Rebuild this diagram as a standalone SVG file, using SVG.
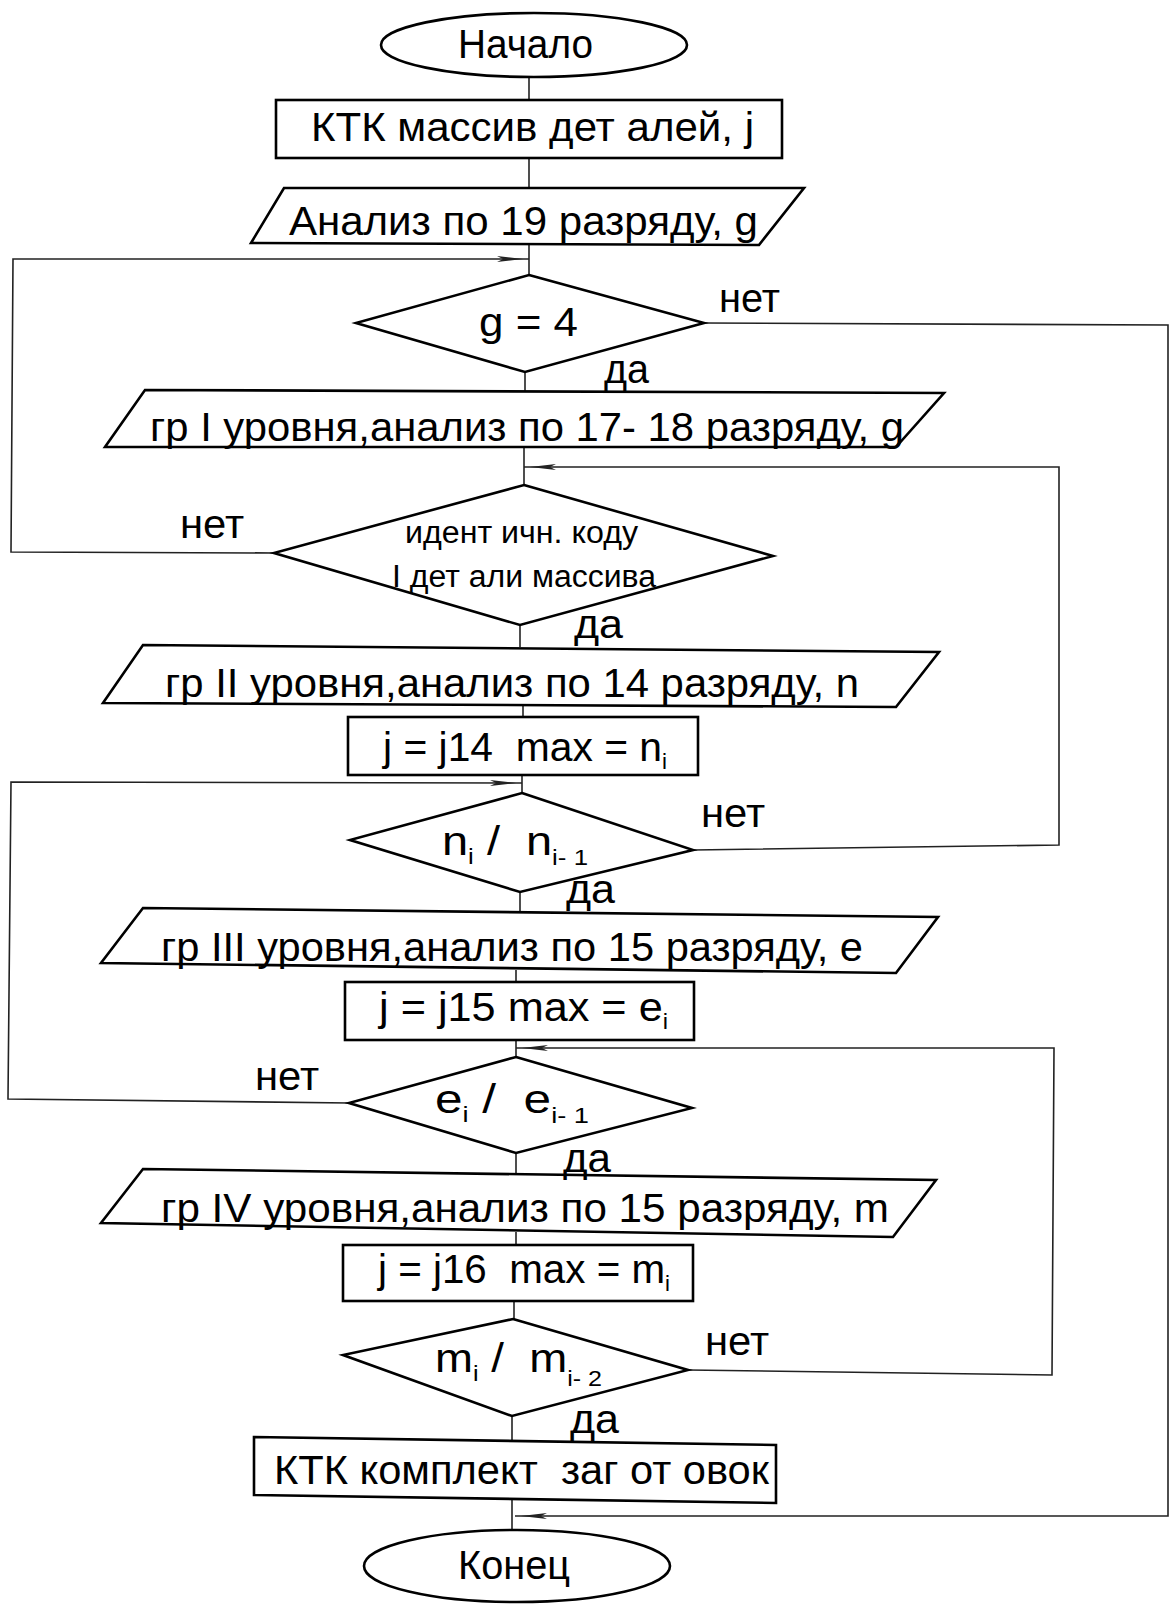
<svg xmlns="http://www.w3.org/2000/svg" width="1176" height="1604" viewBox="0 0 1176 1604">
<defs>
<style>
.shape{fill:none;stroke:#000;stroke-width:2.6;stroke-linejoin:miter}
.conn{fill:none;stroke:#222;stroke-width:1.6}
text{font-family:"Liberation Sans",Arial,sans-serif;fill:#000;white-space:pre}
.t{font-size:40px}
.lbl{font-size:40px}
.sm{font-size:31px}
</style>
<marker id="arr" markerUnits="userSpaceOnUse" markerWidth="40" markerHeight="12" viewBox="0 0 40 12" refX="36" refY="6" orient="auto">
<path d="M4,3 L30,6 L4,9 L10,6 Z" fill="#222"/>
</marker>
</defs>
<rect width="1176" height="1604" fill="#fff"/>

<g id="connectors">
<path class="conn" d="M529,77 V100"/>
<path class="conn" d="M529,158 V188"/>
<path class="conn" d="M529,244 V275"/>
<path class="conn" d="M525,372 V391"/>
<path class="conn" d="M524,447 V485"/>
<path class="conn" d="M520,625 V647"/>
<path class="conn" d="M523,706 V717"/>
<path class="conn" d="M522,775 V793"/>
<path class="conn" d="M520,892 V911"/>
<path class="conn" d="M516,970 V982"/>
<path class="conn" d="M516,1040 V1057"/>
<path class="conn" d="M516,1153 V1174"/>
<path class="conn" d="M516,1232 V1245"/>
<path class="conn" d="M514,1301 V1319"/>
<path class="conn" d="M512,1416 V1442"/>
<path class="conn" d="M512,1498 V1530"/>
<path class="conn" d="M274,553 L11,552 L13,259 L529,259" marker-end="url(#arr)"/>
<path class="conn" d="M704,323 L1168,325 L1168,1516 L515,1516" marker-end="url(#arr)"/>
<path class="conn" d="M693,850 L1059,845 L1059,467 L524,467" marker-end="url(#arr)"/>
<path class="conn" d="M349,1103 L8,1099 L11,782 L522,783" marker-end="url(#arr)"/>
<path class="conn" d="M688,1370 L1052,1375 L1054,1048 L516,1048" marker-end="url(#arr)"/>
</g>

<g id="start">
<ellipse class="shape" cx="534" cy="45" rx="153" ry="32"/>
<text class="t" x="458" y="58" textLength="135" lengthAdjust="spacingAndGlyphs">Начало</text>
</g>

<g id="input-array">
<rect class="shape" x="276" y="100" width="506" height="58"/>
<text class="t" x="311" y="141" textLength="443" lengthAdjust="spacingAndGlyphs">КТК массив дет алей, j</text>
</g>

<g id="analysis-19">
<polygon class="shape" points="284,188 804,188 759,245 251,243"/>
<text class="t" x="289" y="235" textLength="469" lengthAdjust="spacingAndGlyphs">Анализ по 19 разряду, g</text>
</g>

<g id="cond-g4">
<polygon class="shape" points="529,275 704,323 525,372 356,323"/>
<text class="t" x="479" y="336" textLength="99" lengthAdjust="spacingAndGlyphs">g = 4</text>
</g>

<g id="level-1">
<polygon class="shape" points="145,390 944,393 896,447 105,447"/>
<text class="t" x="150" y="441" textLength="754" lengthAdjust="spacingAndGlyphs">гр I уровня,анализ по 17- 18 разряду, g</text>
</g>

<g id="cond-ident">
<polygon class="shape" points="524,485 773,556 520,625 274,553"/>
<text class="sm" x="405" y="543" textLength="233" lengthAdjust="spacingAndGlyphs">идент ичн. коду</text>
<text class="sm" x="392" y="587" textLength="264" lengthAdjust="spacingAndGlyphs">I дет али массива</text>
</g>

<g id="level-2">
<polygon class="shape" points="143,645 939,652 896,707 103,703"/>
<text class="t" x="165" y="697" textLength="694" lengthAdjust="spacingAndGlyphs">гр II уровня,анализ по 14 разряду, n</text>
</g>

<g id="assign-14">
<rect class="shape" x="348" y="717" width="350" height="58"/>
<text class="t" x="383" y="761" textLength="284" lengthAdjust="spacingAndGlyphs">j = j14  max = n<tspan font-size="22" dy="8">i</tspan></text>
</g>

<g id="cond-n">
<polygon class="shape" points="522,793 693,850 520,892 350,840"/>
<text class="t" x="442" y="855" textLength="146" lengthAdjust="spacingAndGlyphs">n<tspan font-size="22" dy="9">i</tspan><tspan dy="-9"> /  n</tspan><tspan font-size="22" dy="10">i- 1</tspan></text>
</g>

<g id="level-3">
<polygon class="shape" points="143,908 938,917 896,973 101,963"/>
<text class="t" x="161" y="961" textLength="702" lengthAdjust="spacingAndGlyphs">гр III уровня,анализ по 15 разряду, e</text>
</g>

<g id="assign-15">
<rect class="shape" x="345" y="982" width="349" height="58"/>
<text class="t" x="379" y="1021" textLength="289" lengthAdjust="spacingAndGlyphs">j = j15 max = e<tspan font-size="22" dy="8">i</tspan></text>
</g>

<g id="cond-e">
<polygon class="shape" points="516,1057 692,1108 516,1153 349,1103"/>
<text class="t" x="435" y="1113" textLength="154" lengthAdjust="spacingAndGlyphs">e<tspan font-size="22" dy="9">i</tspan><tspan dy="-9"> /  e</tspan><tspan font-size="22" dy="10">i- 1</tspan></text>
</g>

<g id="level-4">
<polygon class="shape" points="143,1169 936,1180 893,1237 101,1223"/>
<text class="t" x="161" y="1222" textLength="728" lengthAdjust="spacingAndGlyphs">гр IV уровня,анализ по 15 разряду, m</text>
</g>

<g id="assign-16">
<rect class="shape" x="343" y="1245" width="350" height="56"/>
<text class="t" x="378" y="1283" textLength="292" lengthAdjust="spacingAndGlyphs">j = j16  max = m<tspan font-size="22" dy="8">i</tspan></text>
</g>

<g id="cond-m">
<polygon class="shape" points="513,1319 688,1370 512,1416 343,1355"/>
<text class="t" x="435" y="1372" textLength="167" lengthAdjust="spacingAndGlyphs">m<tspan font-size="22" dy="9">i</tspan><tspan dy="-9"> /  m</tspan><tspan font-size="22" dy="14">i- 2</tspan></text>
</g>

<g id="output-set">
<polygon class="shape" points="254,1437 776,1445 776,1503 254,1495"/>
<text class="t" x="274" y="1484" textLength="495" lengthAdjust="spacingAndGlyphs">КТК комплект  заг от овок</text>
</g>

<g id="end">
<ellipse class="shape" cx="517" cy="1566" rx="153" ry="36"/>
<text class="t" x="458" y="1579" textLength="112" lengthAdjust="spacingAndGlyphs">Конец</text>
</g>

<g id="labels">
<text class="lbl" x="719" y="312" textLength="61" lengthAdjust="spacingAndGlyphs">нет</text>
<text class="lbl" x="604" y="383" textLength="45" lengthAdjust="spacingAndGlyphs">да</text>
<text class="lbl" x="180" y="538" textLength="64" lengthAdjust="spacingAndGlyphs">нет</text>
<text class="lbl" x="574" y="638" textLength="49" lengthAdjust="spacingAndGlyphs">да</text>
<text class="lbl" x="701" y="827" textLength="64" lengthAdjust="spacingAndGlyphs">нет</text>
<text class="lbl" x="566" y="903" textLength="49" lengthAdjust="spacingAndGlyphs">да</text>
<text class="lbl" x="255" y="1090" textLength="64" lengthAdjust="spacingAndGlyphs">нет</text>
<text class="lbl" x="563" y="1172" textLength="48" lengthAdjust="spacingAndGlyphs">да</text>
<text class="lbl" x="705" y="1355" textLength="64" lengthAdjust="spacingAndGlyphs">нет</text>
<text class="lbl" x="570" y="1433" textLength="49" lengthAdjust="spacingAndGlyphs">да</text>
</g>
</svg>
